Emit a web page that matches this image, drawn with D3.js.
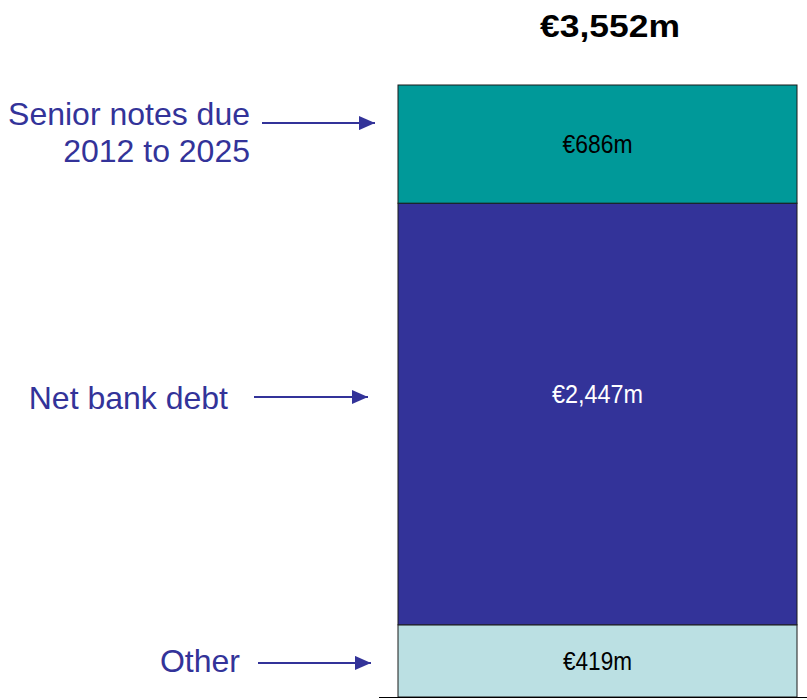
<!DOCTYPE html>
<html>
<head>
<meta charset="utf-8">
<script src="https://cdn.jsdelivr.net/npm/d3@7"></script>
<style>
  html, body { margin: 0; padding: 0; background: #fff; }
  svg { display: block; }
  text { font-family: "Liberation Sans", Arial, Helvetica, sans-serif; }
</style>
</head>
<body>
<svg id="chart" width="807" height="700"></svg>
<script>
// Debt components, stacked from the bottom up (EUR millions)
const categories = ["Other", "Net bank debt", "Senior notes due 2012 to 2025"];
const labelLines = [["Other"], ["Net bank debt"], ["Senior notes due", "2012 to 2025"]];
const values = [419, 2447, 686];
const colors = ["#BBE0E3", "#333399", "#009999"];
const valueTextColors = ["#000000", "#ffffff", "#000000"];

const fmt = v => "\u20AC" + d3.format(",")(v) + "m";
const total = d3.sum(values);

const svg = d3.select("#chart");
const W = 807, H = 700;

// Scales
const y = d3.scaleLinear().domain([0, total]).range([697, 85]);
const x = d3.scaleBand().domain(["Debt"]).range([398, 797]).padding(0);

// Stack the segments
const stacked = [];
let acc = 0;
values.forEach((v, i) => {
  stacked.push({ cat: categories[i], lines: labelLines[i], value: v, y0: acc, y1: acc + v, i });
  acc += v;
});

// Per-segment text layout tweaks (pixels, relative to segment centre)
const layout = [
  { valueDy: 9,  labelDy: [11],      arrowDy: 2,   labelRight: 240, arrowX0: 258, arrowX1: 371 },
  { valueDy: -11, labelDy: [-5],     arrowDy: -17, labelRight: 228, arrowX0: 254, arrowX1: 368 },
  { valueDy: 9,  labelDy: [-19, 18], arrowDy: -21, labelRight: 250, arrowX0: 262, arrowX1: 375 }
];
const valueWidths = [69, 91, 70];

// Arrow marker
svg.append("defs").append("marker")
  .attr("id", "arrowHead")
  .attr("viewBox", "0 0 16 14")
  .attr("refX", 16).attr("refY", 7)
  .attr("markerWidth", 16).attr("markerHeight", 14)
  .attr("markerUnits", "userSpaceOnUse")
  .attr("orient", "auto")
  .append("path")
  .attr("d", "M0,0 L16,7 L0,14 Z")
  .attr("fill", "#333399");

// Bar segments
const seg = svg.append("g").selectAll("g.seg").data(stacked).join("g").attr("class", "seg");

seg.append("rect")
  .attr("x", x("Debt"))
  .attr("width", x.bandwidth())
  .attr("y", d => y(d.y1))
  .attr("height", d => y(d.y0) - y(d.y1))
  .attr("fill", d => colors[d.i])
  .attr("stroke", "#1a1a1a")
  .attr("stroke-width", 1);

seg.append("text")
  .attr("x", x("Debt") + x.bandwidth() / 2)
  .attr("y", d => (y(d.y0) + y(d.y1)) / 2 + layout[d.i].valueDy)
  .attr("text-anchor", "middle")
  .attr("font-size", 25)
  .attr("textLength", d => valueWidths[d.i])
  .attr("lengthAdjust", "spacingAndGlyphs")
  .attr("fill", d => valueTextColors[d.i])
  .text(d => fmt(d.value));

// Baseline under the bar
svg.append("line")
  .attr("x1", 379).attr("x2", W)
  .attr("y1", y(0) + 0.5).attr("y2", y(0) + 0.5)
  .attr("stroke", "#000").attr("stroke-width", 1);

// Category labels with arrows
const lab = svg.append("g").selectAll("g.lab").data(stacked).join("g").attr("class", "lab");

lab.each(function(d) {
  const g = d3.select(this);
  const cy = (y(d.y0) + y(d.y1)) / 2;
  const L = layout[d.i];
  d.lines.forEach((line, k) => {
    g.append("text")
      .attr("x", L.labelRight)
      .attr("y", cy + L.labelDy[k])
      .attr("text-anchor", "end")
      .attr("font-size", 32)
      .attr("fill", "#333399")
      .text(line);
  });
  g.append("line")
    .attr("x1", L.arrowX0).attr("x2", L.arrowX1)
    .attr("y1", cy + L.arrowDy).attr("y2", cy + L.arrowDy)
    .attr("stroke", "#333399").attr("stroke-width", 2)
    .attr("marker-end", "url(#arrowHead)");
});

// Total above the bar
svg.append("text")
  .attr("x", 610)
  .attr("y", 37)
  .attr("text-anchor", "middle")
  .attr("font-size", 31)
  .attr("font-weight", "bold")
  .attr("textLength", 140)
  .attr("lengthAdjust", "spacingAndGlyphs")
  .attr("fill", "#000")
  .text(fmt(total));
</script>
</body>
</html>
